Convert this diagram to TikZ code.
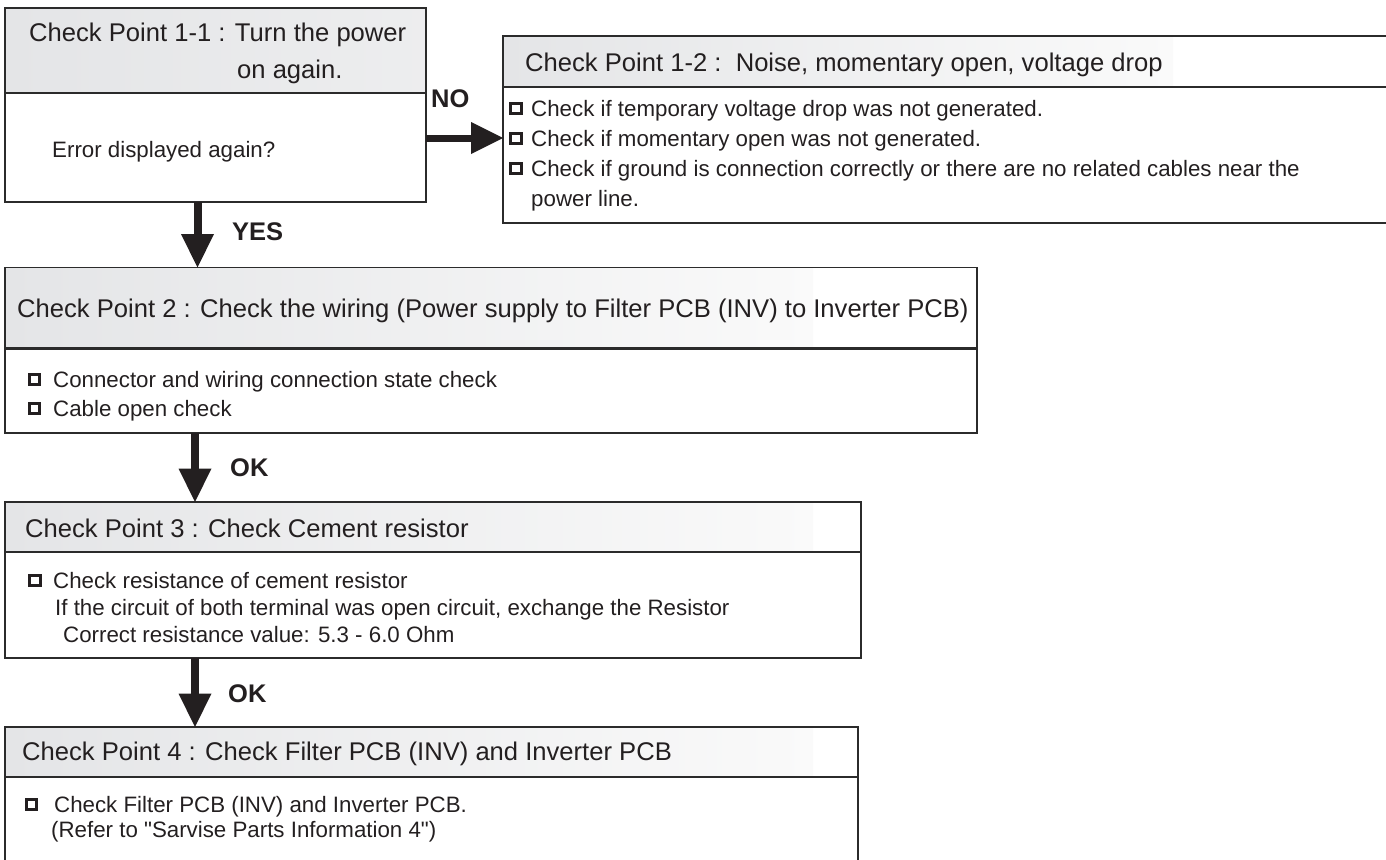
\documentclass[tikz,border=0pt]{standalone}
\usepackage{fontspec}
\setmainfont{Liberation Sans}[Ligatures=TeXOff]
\usetikzlibrary{arrows.meta}
\definecolor{ink}{HTML}{231F20}
\definecolor{edge}{HTML}{2B2B2B}
\definecolor{hdr}{HTML}{E4E5E7}
\definecolor{hdrend}{HTML}{FAFAFA}
\tikzset{
  box/.style={draw=edge, line width=1.5pt, anchor=north west, inner sep=0pt, outer sep=0pt},
  hd/.style={anchor=base west, inner sep=0pt, text=ink, font=\fontsize{25.6}{30}\selectfont},
  it/.style={anchor=base west, inner sep=0pt, text=ink, font=\fontsize{22.3}{27}\selectfont},
  lbl/.style={anchor=base west, inner sep=0pt, text=ink, font=\bfseries\fontsize{25.5}{30}\selectfont},
  cbox/.style={draw=ink, line width=2.7pt, minimum size=10.5pt, inner sep=0pt, outer sep=0pt},
  sepline/.style={draw=edge, line width=2.4pt},
  arr/.style={draw=ink, line width=8pt, -{Triangle[length=33.5pt,width=33pt,line width=0pt]}},
  arrh/.style={draw=ink, line width=7pt, -{Triangle[length=32pt,width=32pt,line width=0pt]}},
}
\begin{document}
\begin{tikzpicture}[x=1pt,y=-1pt]
\useasboundingbox (0,0) rectangle (1386,859);
\clip (0,0) rectangle (1386,859);

% header shadings
\shade[left color=hdr, right color=hdr!60!hdrend] (5,8) rectangle (426,93);
\shade[left color=hdr, right color=hdrend] (503,36) rectangle (1173,87);
\shade[left color=hdr, right color=hdrend] (5,267.5) rectangle (813,348.5);
\shade[left color=hdr, right color=hdrend] (5,502) rectangle (813,552);
\shade[left color=hdr, right color=hdrend] (5,727) rectangle (813,777);

% boxes
\node[box, minimum width=421pt, minimum height=194pt] (b1) at (5,8) {};
\node[box, minimum width=890pt, minimum height=187pt] (b12) at (503,36) {};
\node[box, minimum width=972pt, minimum height=165.5pt] (b2) at (5,267.5) {};
\node[box, minimum width=856pt, minimum height=156pt] (b3) at (5,502) {};
\node[box, minimum width=853pt, minimum height=150pt] (b4) at (5,727) {};

% header separators
\draw[sepline] (b1.west |- 0,93) -- (b1.east |- 0,93);
\draw[sepline] (b12.west |- 0,87) -- (b12.east |- 0,87);
\draw[sepline] (b2.west |- 0,348.5) -- (b2.east |- 0,348.5);
\draw[sepline] (b3.west |- 0,552) -- (b3.east |- 0,552);
\draw[sepline] (b4.west |- 0,777) -- (b4.east |- 0,777);

% box 1-1
\node[hd] (h1a) at (29,42) {Check Point 1-1 : Turn the power};
\node[hd] (h1b) at (237,78) {on again.};
\node[it] (q1) at (52,157) {Error displayed again?};

% box 1-2
\node[hd] (h12) at (525,71) {Check Point 1-2 :\ \ Noise, momentary open, voltage drop};
\node[cbox] (c121) at (516,108.5) {};
\node[it] (t121) at (531,116) {Check if temporary voltage drop was not generated.};
\node[cbox] (c122) at (516,138.5) {};
\node[it] (t122) at (531,146) {Check if momentary open was not generated.};
\node[cbox] (c123) at (516,168.5) {};
\node[it] (t123) at (531,176) {Check if ground is connection correctly or there are no related cables near the};
\node[it] (t124) at (531,206) {power line.};

% box 2
\node[hd] (h2) at (17,317) {Check Point 2 : Check the wiring (Power supply to Filter PCB (INV) to Inverter PCB)};
\node[cbox] (c21) at (34.5,379.5) {};
\node[it] (t21) at (53,387) {Connector and wiring connection state check};
\node[cbox] (c22) at (34.5,408.5) {};
\node[it] (t22) at (53,416) {Cable open check};

% box 3
\node[hd] (h3) at (25,537) {Check Point 3 : Check Cement resistor};
\node[cbox] (c31) at (35,580.5) {};
\node[it] (t31) at (53,588) {Check resistance of cement resistor};
\node[it] (t32) at (55,615) {If the circuit of both terminal was open circuit, exchange the Resistor};
\node[it] (t33) at (63,642) {Correct resistance value: 5.3 - 6.0 Ohm};

% box 4
\node[hd] (h4) at (22,760) {Check Point 4 : Check Filter PCB (INV) and Inverter PCB};
\node[cbox] (c41) at (31.5,804.5) {};
\node[it] (t41) at (54,812) {Check Filter PCB (INV) and Inverter PCB.};
\node[it] (t42) at (51,837) {(Refer to "Sarvise Parts Information 4")};

% connectors
\coordinate (ax) at (197.5,0);
\coordinate (ax2) at (195,0);
\coordinate (ny) at (0,138);
\draw[arr] (b1.south -| ax) -- (b2.north -| ax);
\draw[arr] (b2.south -| ax2) -- (b3.north -| ax2);
\draw[arr] (b3.south -| ax2) -- (b4.north -| ax2);
\draw[arrh] (b1.east |- ny) -- (b12.west |- ny);

% labels
\node[lbl] (lno) at (431,107) {NO};
\node[lbl] (lyes) at (232,240) {YES};
\node[lbl] (lok1) at (230,476) {OK};
\node[lbl] (lok2) at (228,702) {OK};
\end{tikzpicture}
\end{document}
